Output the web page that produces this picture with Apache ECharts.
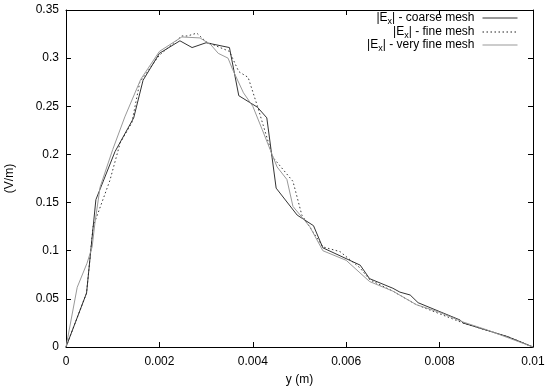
<!DOCTYPE html>
<html>
<head>
<meta charset="utf-8">
<script src="https://cdn.jsdelivr.net/npm/echarts@6/dist/echarts.min.js"></script>
<style>html,body{margin:0;padding:0;background:#fff}#c{width:550px;height:389px}</style>
</head>
<body>
<div id="c"></div>
<script>
// Data
var coarseX = [0, 0.00044, 0.00064, 0.00105, 0.00145, 0.00165, 0.002, 0.00244, 0.0027, 0.003, 0.0035, 0.0037, 0.0041, 0.0043, 0.0045, 0.00495, 0.0053, 0.0055, 0.0063, 0.0065, 0.007, 0.00715, 0.00737, 0.00754, 0.00844, 0.0085, 0.00944, 0.0097, 0.01];
var coarseY = [0, 0.056, 0.153, 0.203, 0.238, 0.277, 0.305, 0.318, 0.311, 0.316, 0.311, 0.261, 0.249, 0.238, 0.165, 0.137, 0.126, 0.103, 0.085, 0.071, 0.061, 0.057, 0.054, 0.046, 0.028, 0.025, 0.011, 0.006, 0];

var fineX = [0, 0.00044, 0.00058, 0.00094, 0.00116, 0.00141, 0.00158, 0.002, 0.00248, 0.0026, 0.0028, 0.003, 0.0035, 0.0037, 0.0039, 0.0041, 0.00443, 0.00486, 0.00505, 0.0055, 0.00587, 0.0063, 0.0065, 0.007, 0.0075, 0.0085, 0.0095, 0.01];
var fineY = [0, 0.056, 0.125, 0.173, 0.212, 0.233, 0.275, 0.303, 0.323, 0.323, 0.326, 0.317, 0.307, 0.286, 0.28, 0.25, 0.197, 0.172, 0.137, 0.104, 0.099, 0.082, 0.07, 0.058, 0.044, 0.025, 0.01, 0];

var vfineX = [0, 0.00024, 0.00045, 0.00056, 0.00062, 0.00073, 0.001, 0.00126, 0.0016, 0.002, 0.00248, 0.00287, 0.0031, 0.00326, 0.00347, 0.00357, 0.0038, 0.004, 0.0042, 0.00452, 0.00473, 0.00486, 0.00522, 0.0055, 0.006, 0.0065, 0.007, 0.0075, 0.008, 0.0085, 0.009, 0.0095, 0.01];
var vfineY = [0, 0.062, 0.087, 0.104, 0.129, 0.166, 0.205, 0.239, 0.278, 0.307, 0.322, 0.321, 0.314, 0.305, 0.300, 0.288, 0.264, 0.25, 0.226, 0.187, 0.174, 0.146, 0.125, 0.1, 0.09, 0.068, 0.058, 0.044, 0.036, 0.026, 0.018, 0.009, 0];

var seriesNames = ['|Ex| - coarse mesh', '|Ex| - fine mesh', '|Ex| - very fine mesh'];
var legendLabels = ['|E{s|x}| - coarse mesh', '|E{s|x}| - fine mesh', '|E{s|x}| - very fine mesh'];
var xTicks = [0, 0.002, 0.004, 0.006, 0.008, 0.01];
var yTicks = [0, 0.05, 0.1, 0.15, 0.2, 0.25, 0.3, 0.35];

function pairs(xs, ys) { return xs.map(function (x, i) { return [x, ys[i]]; }); }

var FONT = 'Liberation Sans';
var chart = echarts.init(document.getElementById('c'), null, { renderer: 'canvas' });

function legendAt(i, top) {
  return {
    show: true,
    data: [seriesNames[i]],
    right: 32, top: top,
    orient: 'vertical',
    align: 'right',
    itemWidth: 35, itemHeight: 8,
    padding: 0,
    selectedMode: false,
    itemStyle: { opacity: 0, borderWidth: 0 },
    lineStyle: { width: 1 },
    formatter: function () { return legendLabels[i]; },
    textStyle: {
      fontFamily: FONT, fontSize: 12, color: '#000', padding: [0, 3, 0, 0],
      rich: { s: { fontFamily: FONT, fontSize: 9, color: '#000', padding: [7, 0, 0, 0] } }
    }
  };
}

var axisCommon = {
  type: 'value',
  splitLine: { show: false },
  axisLine: { show: true, onZero: false, lineStyle: { color: '#000', width: 1 } },
  axisTick: { show: true, inside: true, length: 5, lineStyle: { color: '#000' } }
};

chart.setOption({
  animation: false,
  backgroundColor: '#fff',
  grid: { left: 66, right: 17, top: 10, bottom: 42, containLabel: false, outerBoundsMode: 'none' },
  legend: [legendAt(0, 12), legendAt(1, 26), legendAt(2, 39)],
  xAxis: [
    Object.assign({}, axisCommon, {
      min: 0, max: 0.01, interval: 0.002, position: 'bottom',
      name: 'y (m)', nameLocation: 'middle', nameGap: 27,
      nameTextStyle: { fontFamily: FONT, fontSize: 12, color: '#000' },
      axisLabel: { fontFamily: FONT, fontSize: 12, color: '#000', margin: 9,
        formatter: function (v) { return String(+v.toFixed(4)); } }
    }),
    Object.assign({}, axisCommon, {
      min: 0, max: 0.01, interval: 0.002, position: 'top',
      axisLabel: { show: false }
    })
  ],
  yAxis: [
    Object.assign({}, axisCommon, {
      min: 0, max: 0.35, interval: 0.05, position: 'left',
      name: '(V/m)', nameLocation: 'middle', nameGap: 50, nameRotate: 90,
      nameTextStyle: { fontFamily: FONT, fontSize: 12, color: '#000' },
      axisLabel: { fontFamily: FONT, fontSize: 12, color: '#000', margin: 7,
        formatter: function (v) { return String(+v.toFixed(3)); } }
    }),
    Object.assign({}, axisCommon, {
      min: 0, max: 0.35, interval: 0.05, position: 'right',
      axisLabel: { show: false }
    })
  ],
  series: [
    { name: seriesNames[0], type: 'line', data: pairs(coarseX, coarseY), symbol: 'none',
      lineStyle: { color: '#333', width: 1 }, itemStyle: { color: '#333' } },
    { name: seriesNames[1], type: 'line', data: pairs(fineX, fineY), symbol: 'none',
      lineStyle: { color: '#222', width: 0.9, type: [1.5, 2.5] }, itemStyle: { color: '#222' } },
    { name: seriesNames[2], type: 'line', data: pairs(vfineX, vfineY), symbol: 'none',
      lineStyle: { color: '#999', width: 1 }, itemStyle: { color: '#999' } }
  ]
});
</script>
</body>
</html>
